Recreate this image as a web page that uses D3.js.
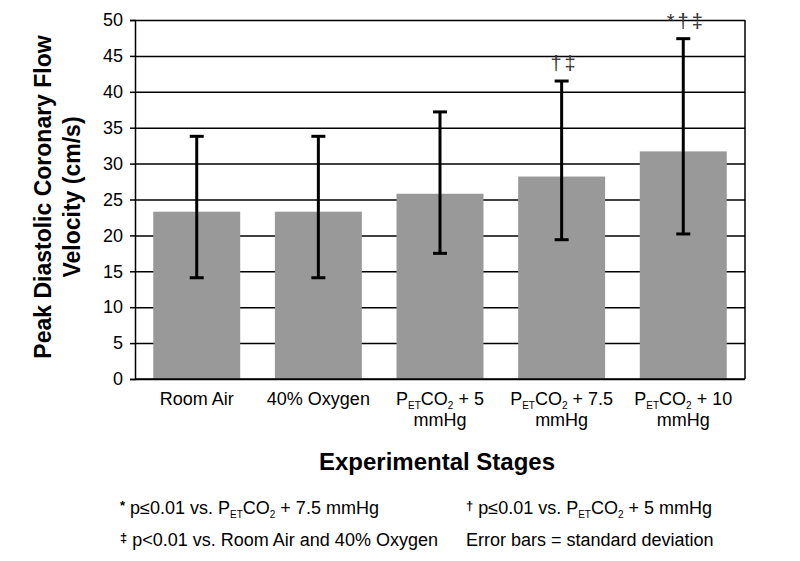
<!DOCTYPE html>
<html>
<head>
<meta charset="utf-8">
<script src="https://cdn.jsdelivr.net/npm/d3@7"></script>
<style>
  body { margin: 0; background: #fff; }
  text { font-family: "Liberation Sans", Arial, sans-serif; }
</style>
</head>
<body>
<div id="chart"></div>
<script>
// data
const stages = ['Room Air', '40% Oxygen', 'PETCO2 + 5', 'PETCO2 + 7.5', 'PETCO2 + 10'];
const means = [23.3, 23.3, 25.8, 28.2, 31.7];
const errLow = [14.1, 14.1, 17.5, 19.4, 20.2];
const errHigh = [33.8, 33.8, 37.2, 41.5, 47.4];
const marks = ['', '', '', '†‡', '*†‡'];
const yTicks = [0, 5, 10, 15, 20, 25, 30, 35, 40, 45, 50];

// label pieces: [main, subscript] pairs per line
const labelLines = [
  [[['Room Air', null]]],
  [[['40% Oxygen', null]]],
  [[['P', 'ET'], ['CO', '2'], [' + 5', null]], [['mmHg', null]]],
  [[['P', 'ET'], ['CO', '2'], [' + 7.5', null]], [['mmHg', null]]],
  [[['P', 'ET'], ['CO', '2'], [' + 10', null]], [['mmHg', null]]],
];

const margin = { top: 20, right: 55, bottom: 182, left: 135 };
const width = 800 - margin.left - margin.right;
const height = 561 - margin.top - margin.bottom;

const root = d3.select('#chart')
  .append('svg')
  .attr('width', 800)
  .attr('height', 561);

const svg = root.append('g')
  .attr('transform', `translate(${margin.left},${margin.top})`);

const x = d3.scaleBand().domain(stages).range([0, width]).paddingInner(0.285).paddingOuter(0.15);
const y = d3.scaleLinear().domain([0, 50]).range([height, 0]);

// gridlines
svg.append('g')
  .call(d3.axisLeft(y).tickValues(yTicks).tickSize(-width).tickFormat(''))
  .call((g) => g.select('.domain').remove())
  .selectAll('line')
  .attr('stroke', '#000')
  .attr('stroke-width', 1.5);

// right border
svg.append('line')
  .attr('x1', width).attr('x2', width)
  .attr('y1', 0).attr('y2', height)
  .attr('stroke', '#000').attr('stroke-width', 1.5);

// bars
svg.selectAll('.bar')
  .data(stages)
  .enter()
  .append('rect')
  .attr('x', (d) => x(d))
  .attr('y', (d, i) => y(means[i]))
  .attr('width', x.bandwidth())
  .attr('height', (d, i) => height - y(means[i]))
  .attr('fill', '#999999');

// Y axis
const yAxis = svg.append('g')
  .call(d3.axisLeft(y).tickValues(yTicks).tickSize(5).tickPadding(7));
yAxis.select('.domain').attr('stroke-width', 1.5);
yAxis.selectAll('line').attr('stroke-width', 1.5);
yAxis.selectAll('text').style('font-size', '18px').attr('fill', '#000');

// X baseline
svg.append('line')
  .attr('x1', 0).attr('x2', width)
  .attr('y1', height).attr('y2', height)
  .attr('stroke', '#000').attr('stroke-width', 1.5);

// error bars
const cx = (d) => x(d) + x.bandwidth() / 2;
const eb = svg.selectAll('.err').data(stages).enter().append('g');
eb.append('line')
  .attr('x1', cx).attr('x2', cx)
  .attr('y1', (d, i) => y(errLow[i]))
  .attr('y2', (d, i) => y(errHigh[i]))
  .attr('stroke', '#000').attr('stroke-width', 3);
[errLow, errHigh].forEach((arr) => {
  eb.append('line')
    .attr('x1', (d) => cx(d) - 7).attr('x2', (d) => cx(d) + 7)
    .attr('y1', (d, i) => y(arr[i]))
    .attr('y2', (d, i) => y(arr[i]))
    .attr('stroke', '#000').attr('stroke-width', 3);
});

// significance marks
svg.selectAll('.sig').data(stages).enter().append('text')
  .attr('x', (d) => cx(d) + 3)
  .attr('y', (d, i) => y(errHigh[i]) - 11)
  .attr('text-anchor', 'middle')
  .style('font-size', '20px')
  .style('letter-spacing', '3px')
  .attr('fill', '#333')
  .text((d, i) => marks[i]);

// text with subscripts
function addRich(sel, parts, size) {
  let shift = 0;
  parts.forEach(([main, sub]) => {
    sel.append('tspan').style('font-size', size + 'px').attr('dy', -shift).text(main);
    shift = 0;
    if (sub) {
      sel.append('tspan').style('font-size', Math.round(size * 0.55) + 'px')
        .attr('dy', 4).text(sub);
      shift = 4;
    }
  });
}
stages.forEach((s, i) => {
  labelLines[i].forEach((line, j) => {
    const t = svg.append('text')
      .attr('x', cx(s))
      .attr('y', height + 26 + j * 21)
      .attr('text-anchor', 'middle')
      .attr('fill', '#000');
    addRich(t, line, 18);
  });
});

// axis titles
const yTitle = root.append('text')
  .attr('transform', 'translate(0,197) rotate(-90)')
  .attr('text-anchor', 'middle')
  .style('font-size', '23px')
  .style('font-weight', 'bold');
yTitle.append('tspan').attr('x', 0).attr('y', 51).text('Peak Diastolic Coronary Flow');
yTitle.append('tspan').attr('x', 0).attr('y', 80).text('Velocity (cm/s)');

root.append('text')
  .attr('x', 437).attr('y', 470)
  .attr('text-anchor', 'middle')
  .style('font-size', '24px')
  .style('font-weight', 'bold')
  .text('Experimental Stages');

// footnotes
const notes = [
  { x: 120, y: 514, parts: [['p≤0.01 vs. P', 'ET'], ['CO', '2'], [' + 7.5 mmHg', null]], sym: '*' },
  { x: 466, y: 514, parts: [['p≤0.01 vs. P', 'ET'], ['CO', '2'], [' + 5 mmHg', null]], sym: '†' },
  { x: 120, y: 546, parts: [['p<0.01 vs. Room Air and 40% Oxygen', null]], sym: '‡' },
  { x: 466, y: 546, parts: [['Error bars = standard deviation', null]], sym: '' },
];
notes.forEach((n) => {
  const t = root.append('text').attr('x', n.x).attr('y', n.y).attr('fill', '#000');
  if (n.sym) {
    t.append('tspan').style('font-size', '13px').style('font-weight', 'bold')
      .attr('dy', -4).text(n.sym);
    t.append('tspan').attr('dy', 4).style('font-size', '18px').text(' ');
  }
  addRich(t, n.parts, 18);
});
</script>
</body>
</html>
